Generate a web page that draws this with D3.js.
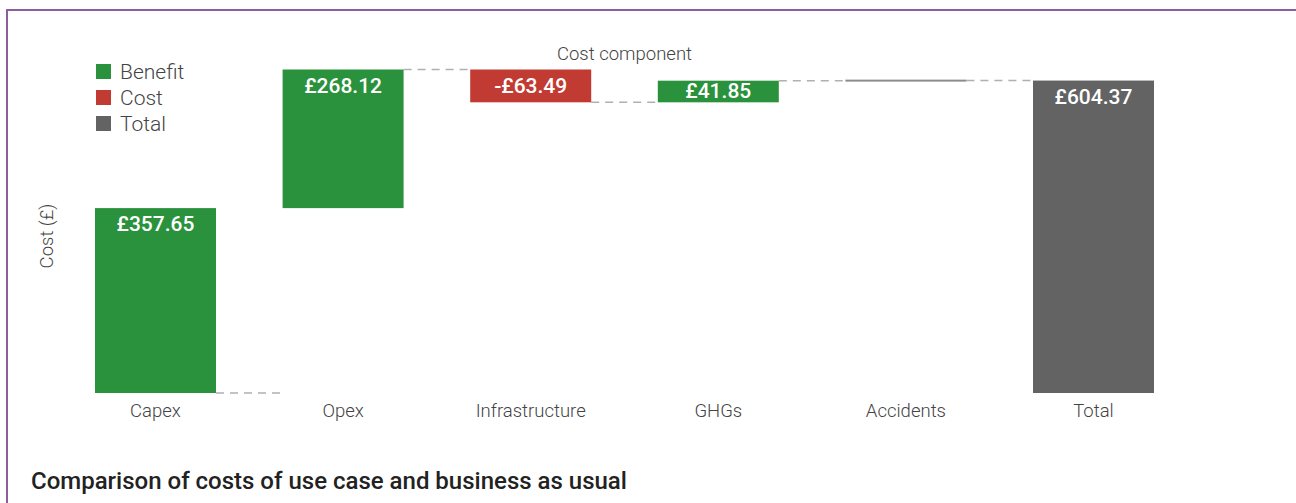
<!DOCTYPE html>
<html>
<head>
<meta charset="utf-8">
<script src="https://cdn.jsdelivr.net/npm/d3@7"></script>
<style>
  body { margin: 0; background: #fff; }
  svg { display: block; font-family: Roboto, "Noto Sans", sans-serif; }
</style>
</head>
<body>
<svg id="chart" width="1296" height="503"></svg>
<script>
'use strict';

// chart data
const categories = ["Capex", "Opex", "Infrastructure", "GHGs", "Accidents", "Total"];
const values = [357.65, 268.12, -63.49, 41.85, 0.24, 604.37];
const measures = ["relative", "relative", "relative", "relative", "relative", "total"];
const labels = ["£357.65", "£268.12", "-£63.49", "£41.85", "", "£604.37"];
const legendItems = ["Benefit", "Cost", "Total"];

const COLORS = { Benefit: "#2a923c", Cost: "#c23b32", Total: "#636363" };
const TEXT_COL = "#444";

const svg = d3.select("#chart");

// purple frame (right and bottom edges fall outside the picture)
svg.append("rect")
	.attr("x", 7).attr("y", 10)
	.attr("width", 1400).attr("height", 600)
	.attr("fill", "none")
	.attr("stroke", "#8e5c9f")
	.attr("stroke-width", 2);

// waterfall steps
let running = 0;
const steps = categories.map((c, i) => {
	let start, end, kind;
	if (measures[i] === "total") {
		start = 0; end = values[i]; kind = "Total";
	} else {
		start = running; end = running + values[i];
		kind = values[i] < 0 ? "Cost" : "Benefit";
	}
	running = end;
	return { name: c, start, end, kind, label: labels[i], idx: i };
});

const x = d3.scaleBand()
	.domain(categories)
	.range([61.7, 1187.3])
	.paddingInner(0.355)
	.paddingOuter(0.1775);

const y = d3.scaleLinear()
	.domain([0, 625.77])
	.range([393, 69.5]);

// connectors
const gLink = svg.append("g")
	.attr("stroke", "#b0b0b0")
	.attr("stroke-width", 1.5)
	.attr("stroke-dasharray", "8,6")
	.attr("fill", "none");

steps.slice(0, -1).forEach((s, i) => {
	const next = steps[i + 1];
	const level = i === 0 ? s.start : s.end;
	gLink.append("line")
		.attr("x1", x(s.name) + x.bandwidth())
		.attr("x2", x(next.name))
		.attr("y1", y(level))
		.attr("y2", y(level));
});

// bars
const gBar = svg.append("g");
steps.forEach(s => {
	const top = y(Math.max(s.start, s.end));
	const bot = y(Math.min(s.start, s.end));
	const h = bot - top;
	if (h < 1.5) {
		// near-zero step shows up as a thin rule
		gBar.append("rect")
			.attr("x", x(s.name))
			.attr("y", (top + bot) / 2 - 1)
			.attr("width", x.bandwidth())
			.attr("height", 2)
			.attr("fill", "#8c8c8c");
		return;
	}
	gBar.append("rect")
		.attr("x", x(s.name))
		.attr("y", top)
		.attr("width", x.bandwidth())
		.attr("height", h)
		.attr("fill", COLORS[s.kind]);
	gBar.append("text")
		.attr("x", x(s.name) + x.bandwidth() / 2)
		.attr("y", Math.min(top + 23, bot - 4))
		.attr("text-anchor", "middle")
		.attr("fill", "#fff")
		.style("font-size", "21px")
		.style("font-weight", 500)
		.text(s.label);
});

// x axis labels (no axis line)
const xAxis = d3.axisBottom(x).tickSize(0).tickPadding(0);
const gx = svg.append("g")
	.attr("transform", "translate(0,404)")
	.call(xAxis);
gx.select(".domain").remove();
gx.selectAll("text")
	.attr("dy", "0.71em")
	.attr("fill", TEXT_COL)
	.style("font-size", "18.5px")
	.style("font-weight", 300)
	.style("font-family", "Roboto, sans-serif");

// axis titles
svg.append("text")
	.attr("x", (x.range()[0] + x.range()[1]) / 2)
	.attr("y", 60)
	.attr("text-anchor", "middle")
	.attr("fill", TEXT_COL)
	.style("font-size", "18.5px")
	.style("font-weight", 300)
	.text("Cost component");

svg.append("text")
	.attr("transform", "translate(53,236) rotate(-90)")
	.attr("text-anchor", "middle")
	.attr("fill", TEXT_COL)
	.style("font-size", "18.5px")
	.style("font-weight", 300)
	.text("Cost (£)");

// legend
const gLeg = svg.append("g").attr("transform", "translate(96,64)");
legendItems.forEach((k, i) => {
	const row = gLeg.append("g").attr("transform", `translate(0,${i * 26})`);
	row.append("rect")
		.attr("width", 15).attr("height", 15)
		.attr("fill", COLORS[k]);
	row.append("text")
		.attr("x", 24).attr("y", 15)
		.attr("fill", TEXT_COL)
		.style("font-size", "21px")
		.style("font-weight", 300)
		.text(k);
});

// title
svg.append("text")
	.attr("x", 31)
	.attr("y", 489)
	.attr("fill", "#222")
	.style("font-size", "24px")
	.style("font-weight", 500)
	.text("Comparison of costs of use case and business as usual");
</script>
</body>
</html>
